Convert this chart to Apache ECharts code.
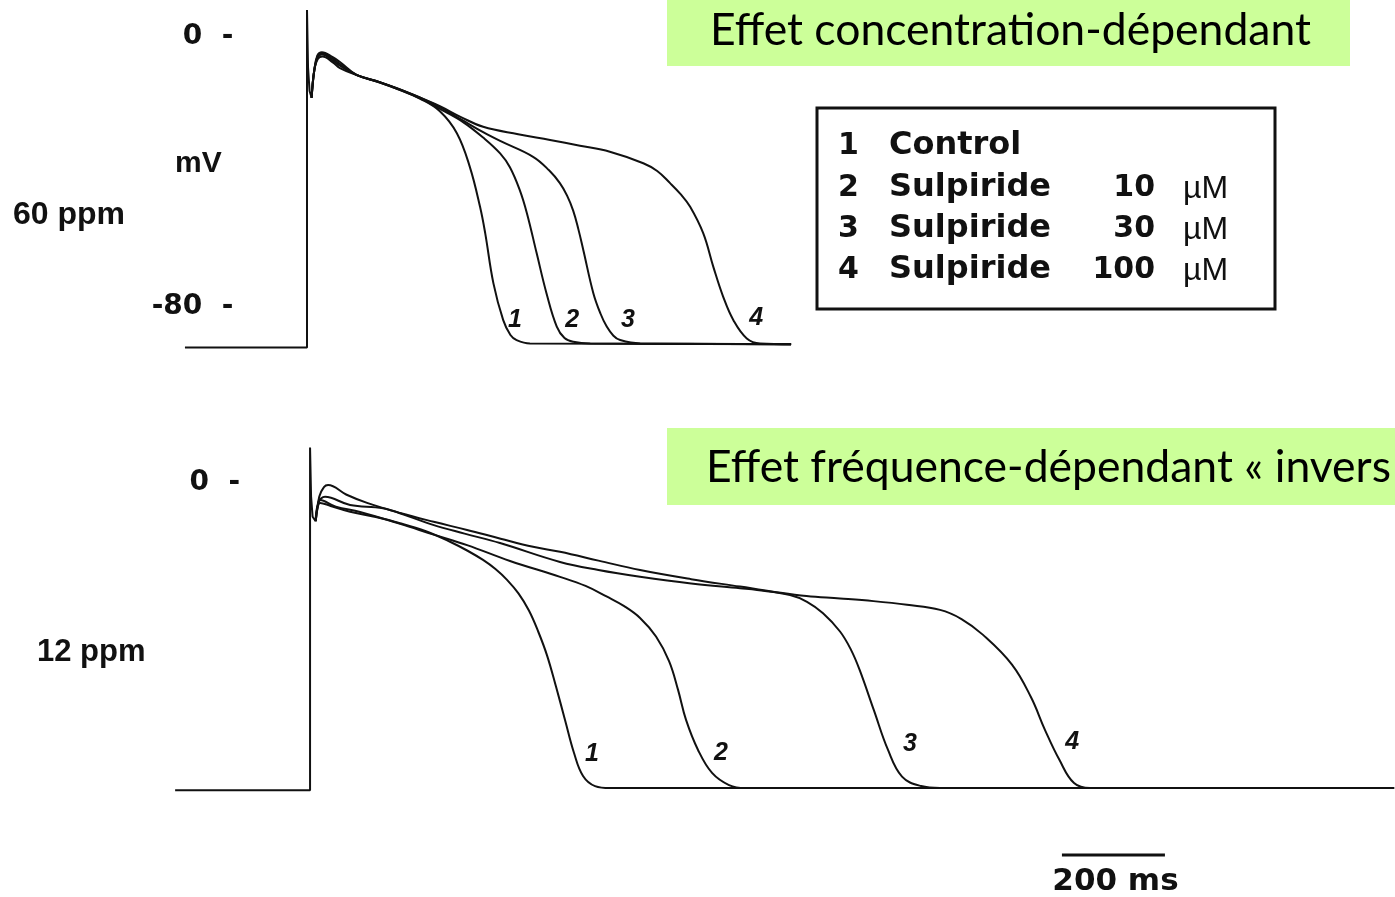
<!DOCTYPE html>
<html><head><meta charset="utf-8">
<script src="https://cdn.jsdelivr.net/npm/echarts@6/dist/echarts.min.js"></script>
<style>html,body{margin:0;padding:0;background:#fff}#c{width:1395px;height:897px}</style>
</head><body><div id="c"></div>
<script>
// ---------------- DATA (time in ms, potential in mV) ----------------
const traceLabels = ['1', '2', '3', '4'];
const legendNumbers = ['1', '2', '3', '4'];
const legendNames = ['Control', 'Sulpiride', 'Sulpiride', 'Sulpiride'];
const legendConc = ['', '10', '30', '100'];
const legendUnit = ['', 'µM', 'µM', 'µM'];
const topTickLabels = { '0': '0  -', '-80': '-80  -' };
const bottomTickLabels = { '0': '0  -' };
const panelLabels = ['60 ppm', '12 ppm'];
const unitLabel = 'mV';
const titleTop = 'Effet concentration-dépendant';
const titleBottom = 'Effet fréquence-dépendant « invers';

// 60 ppm panel
const top60Upstroke = [[-237, -92], [0, -92], [0, 8], [2, -9], [5, -16], [9, -18]];
const top60Trace1 = [[9, -18], [14, -10], [21, -6.5], [30, -5.8], [50, -7.5], [64, -9.2], [97, -11.3], [140, -13.4], [181, -15.7], [220, -18.3], [258, -22], [291, -28.5], [316, -38.4], [336, -50.3], [346, -58.1], [362, -73], [381, -83.9], [395, -88.3], [407, -89.8], [433, -90.8], [940, -91]];
const top60Trace2 = [[9, -18], [14, -10], [21, -6], [29, -5.2], [50, -7], [64, -8.5], [97, -11.3], [140, -13.4], [181, -15.7], [220, -18.2], [258, -21.3], [303, -25.2], [342, -29.8], [375, -34.5], [394, -38.6], [413, -45.3], [427, -52.2], [446, -64.1], [465, -75.9], [485, -85.8], [500, -89.2], [517, -90.3], [550, -90.8], [940, -91]];
const top60Trace3 = [[9, -18], [14, -10], [21, -5.5], [29, -4.8], [50, -6.5], [64, -8], [97, -11.3], [140, -13.3], [181, -15.6], [220, -18], [258, -20.8], [300, -24.5], [342, -28.2], [375, -30.8], [439, -35.5], [470, -39.5], [491, -43.3], [505, -47], [517, -51.5], [527, -57], [536.5, -63.1], [556, -75.9], [570, -82], [582, -85.8], [595, -88.5], [608, -89.8], [647, -90.8], [940, -91]];
const top60Trace4 = [[9, -18], [14, -10], [20, -5.5], [29, -4.5], [50, -6], [64, -7.4], [97, -11.3], [140, -13.3], [181, -15.5], [220, -18], [258, -20.5], [300, -23.8], [342, -26.6], [410, -28.8], [472, -30.5], [530, -32.2], [588, -34], [653, -37.4], [680, -39.7], [705, -43.3], [725, -46.5], [744, -50.3], [769.5, -58.2], [789, -68.1], [808, -76.9], [828, -83.9], [854, -89.3], [880, -90.8], [940, -91]];
const top60LabelPos = [[404, -84], [515, -84], [623, -84], [872, -83.3]];

// 12 ppm panel
const bot12Upstroke = [[-262, -91], [0, -91], [0, 10.5], [2, -4], [5, -10], [11, -11.3]];
const bot12Trace1 = [[11, -11.3], [15, -7], [19.4, -5.9], [40, -6.8], [77.7, -8.5], [125, -10], [174.8, -11.9], [225, -14.3], [271.8, -17.4], [305, -20], [335.9, -22.8], [360, -25.5], [382.5, -28.7], [405, -32.8], [425, -37.8], [443, -44], [460, -51], [477.7, -60.4], [495.1, -70.2], [512.6, -80], [530.1, -86.8], [553.4, -89.8], [582.5, -90.4], [2105, -90.4]];
const bot12Trace2 = [[11, -11.3], [15, -7], [19.4, -5], [50, -7], [97.1, -8.6], [174.8, -12.1], [240, -15.3], [304.9, -18.4], [388.3, -23.1], [485.4, -27.8], [535, -30.5], [576.7, -33.7], [610, -36.5], [640.8, -40], [671.8, -45.5], [697.1, -52.8], [714.6, -61.3], [730.1, -70.2], [753.4, -79.1], [780.6, -85.9], [813.6, -89.5], [844.7, -90.4], [2105, -90.4]];
const bot12Trace3 = [[11, -11.3], [16, -6], [29.1, -4.1], [77.7, -6.5], [141.7, -7.5], [190, -9.8], [238.8, -12.4], [300, -15], [368.9, -17.8], [485.4, -23.4], [560, -25.8], [640.8, -27.8], [740, -29.8], [834.9, -31.2], [867.9, -31.7], [932, -33.2], [965, -35.2], [996.1, -38.6], [1029.1, -44], [1050, -49.3], [1067, -55.3], [1094.8, -67.3], [1122.3, -79.1], [1149.5, -87], [1186.4, -89.8], [1223.3, -90.4], [2105, -90.4]];
const bot12Trace4 = [[11, -11.3], [18, -4], [27, -1.2], [35, -0.6], [70, -3.4], [110.7, -5.9], [174.8, -8.9], [240, -11.5], [304.9, -13.9], [370, -16.5], [433, -18.9], [485.4, -20.4], [560, -23], [640.8, -25.8], [740, -28.5], [834.9, -30.7], [899, -32.2], [964, -33.5], [1029.1, -34.2], [1094, -35], [1159.2, -36.1], [1223.3, -37.6], [1265, -40.3], [1306.8, -45], [1363, -53.8], [1400, -63.5], [1427.2, -73.2], [1455.3, -82.1], [1483.5, -88.9], [1514.6, -90.4], [2105, -90.4]];
const bot12LabelPos = [[547.6, -80.3], [798, -80], [1165, -77.3], [1480, -76.7]];

const scaleBar = [[1460, -110.2], [1660, -110.2]];
const scaleBarLabel = '200 ms';
const scaleBarLabelPos = [[1564, -118.2]];

// ---------------- CHART ----------------
const INK = '#111111';
const chart = echarts.init(document.getElementById('c'), null, { renderer: 'canvas' });

function traceSeries(data, xi, smooth) {
  return {
    type: 'line', xAxisIndex: xi, yAxisIndex: xi, data: data,
    showSymbol: false, symbol: 'none', smooth: smooth ? 0.4 : false, clip: false,
    lineStyle: { color: INK, width: 2 }, silent: true, z: 3
  };
}
function textSeries(pos, names, xi, font) {
  return {
    type: 'scatter', xAxisIndex: xi, yAxisIndex: xi, symbolSize: 1, clip: false, silent: true,
    itemStyle: { opacity: 0 },
    data: pos.map((p, i) => ({ value: p, name: names[i] })),
    label: Object.assign({ show: true, position: 'inside', formatter: p => p.name, color: INK,
      opacity: 1, textBorderWidth: 0 }, font),
    emphasis: { disabled: true }
  };
}
function yLabelFormatter(map) {
  return v => (map[String(v)] !== undefined ? map[String(v)] : '');
}

const legendRows = [146, 188, 229, 270];
const graphics = [
  { type: 'rect', shape: { x: 667, y: -2, width: 683, height: 68 }, style: { fill: '#ccff99' }, z: 1 },
  { type: 'text', x: 710, y: 31, style: { text: titleTop, font: '44.5px Lato', fill: '#000', align: 'left', verticalAlign: 'middle' }, z: 2 },
  { type: 'rect', shape: { x: 667, y: 428, width: 740, height: 77 }, style: { fill: '#ccff99' }, z: 1 },
  { type: 'text', x: 706, y: 468, style: { text: titleBottom, font: '44.5px Lato', fill: '#000', align: 'left', verticalAlign: 'middle' }, z: 2 },
  { type: 'rect', shape: { x: 817, y: 108, width: 458, height: 201 }, style: { fill: '#fff', stroke: INK, lineWidth: 3 }, z: 1 },
  { type: 'text', x: 175, y: 164, style: { text: unitLabel, font: 'bold 30px "Liberation Sans"', fill: INK, verticalAlign: 'middle' } },
  { type: 'text', x: 13, y: 215, style: { text: panelLabels[0], font: 'bold 32px "Liberation Sans"', fill: INK, verticalAlign: 'middle' } },
  { type: 'text', x: 37, y: 652, style: { text: panelLabels[1], font: 'bold 31px "Liberation Sans"', fill: INK, verticalAlign: 'middle' } }
];
legendRows.forEach((y, i) => {
  graphics.push({ type: 'text', x: 838, y: y, z: 2, style: { text: legendNumbers[i], font: 'bold 30px "DejaVu Sans"', fill: INK, verticalAlign: 'middle' } });
  graphics.push({ type: 'text', x: 889, y: y, z: 2, style: { text: legendNames[i], font: 'bold 32px "DejaVu Sans"', fill: INK, verticalAlign: 'middle' } });
  if (legendConc[i]) {
    graphics.push({ type: 'text', x: 1155, y: y, z: 2, style: { text: legendConc[i], font: 'bold 30px "DejaVu Sans"', fill: INK, align: 'right', verticalAlign: 'middle' } });
    graphics.push({ type: 'text', x: 1183, y: y + 1, z: 2, style: { text: legendUnit[i], font: '32px "Liberation Sans"', fill: INK, verticalAlign: 'middle' } });
  }
});

const traceFont = { fontFamily: 'Liberation Sans', fontWeight: 'bold', fontStyle: 'italic', fontSize: 25 };
const scaleFont = { fontFamily: 'DejaVu Sans', fontWeight: 'bold', fontSize: 31 };

const option = {
  animation: false,
  backgroundColor: '#fff',
  grid: [
    { left: 183.4, top: 3.25, width: 607.7, height: 371.25 },
    { left: 171, top: 449.25, width: 1223.1, height: 438.75 }
  ],
  xAxis: [
    { type: 'value', gridIndex: 0, min: -240, max: 940, show: false, axisLine: { onZero: false } },
    { type: 'value', gridIndex: 1, min: -270, max: 2105, show: false, axisLine: { onZero: false } }
  ],
  yAxis: [
    { type: 'value', gridIndex: 0, min: -100, max: 10, interval: 10,
      axisLine: { show: false, onZero: false }, axisTick: { show: false }, splitLine: { show: false },
      axisLabel: { show: true, inside: true, align: 'right', margin: 50, formatter: yLabelFormatter(topTickLabels),
        fontFamily: 'DejaVu Sans', fontWeight: 'bold', fontSize: 28, color: INK } },
    { type: 'value', gridIndex: 1, min: -120, max: 10, interval: 10,
      axisLine: { show: false, onZero: false }, axisTick: { show: false }, splitLine: { show: false },
      axisLabel: { show: true, inside: true, align: 'right', margin: 69, formatter: yLabelFormatter(bottomTickLabels),
        fontFamily: 'DejaVu Sans', fontWeight: 'bold', fontSize: 28, color: INK } }
  ],
  graphic: graphics,
  series: [
    traceSeries(top60Upstroke, 0, false),
    traceSeries(top60Trace1, 0, true),
    traceSeries(top60Trace2, 0, true),
    traceSeries(top60Trace3, 0, true),
    traceSeries(top60Trace4, 0, true),
    textSeries(top60LabelPos, traceLabels, 0, traceFont),
    traceSeries(bot12Upstroke, 1, false),
    traceSeries(bot12Trace1, 1, true),
    traceSeries(bot12Trace2, 1, true),
    traceSeries(bot12Trace3, 1, true),
    traceSeries(bot12Trace4, 1, true),
    textSeries(bot12LabelPos, traceLabels, 1, traceFont),
    { type: 'line', xAxisIndex: 1, yAxisIndex: 1, data: scaleBar, symbol: 'none', clip: false, silent: true,
      lineStyle: { color: INK, width: 3 } },
    textSeries(scaleBarLabelPos, [scaleBarLabel], 1, scaleFont)
  ]
};
chart.setOption(option);
</script>
</body></html>
